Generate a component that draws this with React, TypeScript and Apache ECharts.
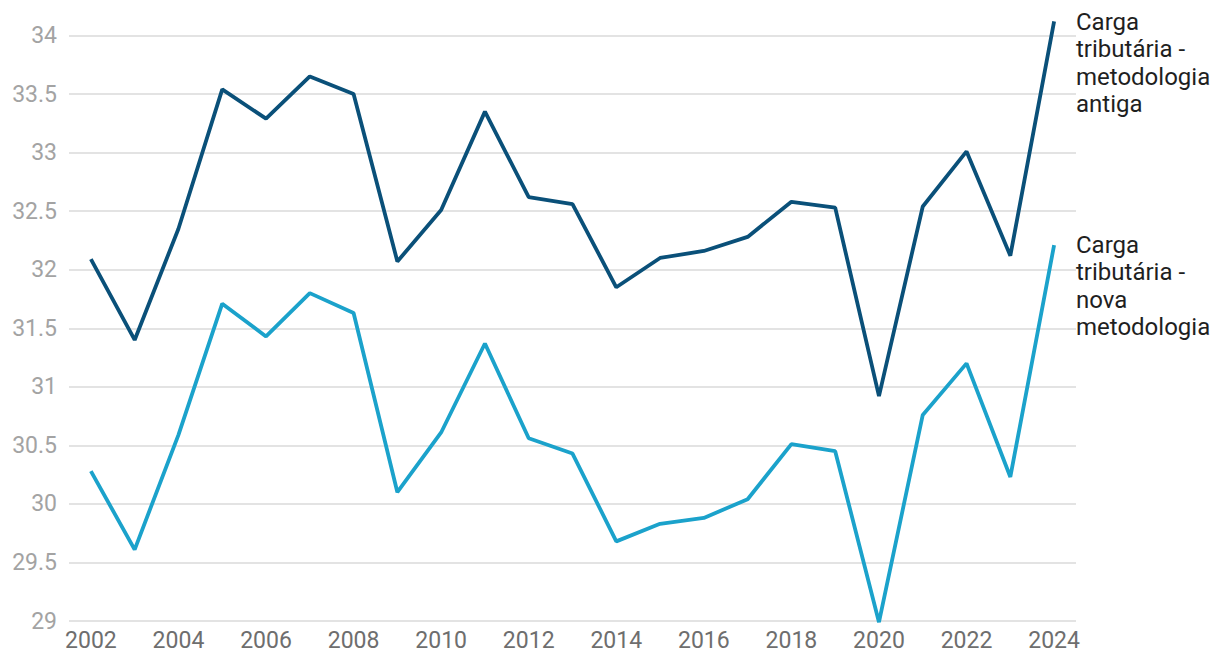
import React, { useEffect, useRef } from "react";
import * as echarts from "echarts";

const years = ["2002","2003","2004","2005","2006","2007","2008","2009","2010","2011","2012","2013","2014","2015","2016","2017","2018","2019","2020","2021","2022","2023","2024"];
const antiga = [32.09,31.4,32.35,33.54,33.29,33.65,33.5,32.07,32.51,33.35,32.62,32.56,31.85,32.1,32.16,32.28,32.58,32.53,30.92,32.54,33.01,32.12,34.12];
const nova = [30.28,29.61,30.59,31.71,31.43,31.8,31.63,30.1,30.61,31.37,30.56,30.43,29.68,29.83,29.88,30.04,30.51,30.45,28.99,30.76,31.2,30.23,32.21];
const labelAntiga = "Carga\ntributária -\nmetodologia\nantiga";
const labelNova = "Carga\ntributária -\nnova\nmetodologia";

export default function App() {
  const ref = useRef<HTMLDivElement>(null);
  useEffect(() => {
    const chart = echarts.init(ref.current!, undefined, { renderer: "svg" });
    chart.setOption({
      animation: false,
      textStyle: { fontFamily: "Roboto" },
      grid: { left: 69, right: 144, top: 35.5, bottom: 51, containLabel: false },
      xAxis: {
        type: "category",
        data: years,
        boundaryGap: true,
        axisLine: { show: false },
        axisTick: { show: false },
        axisLabel: { interval: 1, color: "#6e6e6e", fontSize: 23, fontFamily: "Roboto", margin: 8 },
        splitLine: { show: false },
      },
      yAxis: {
        type: "value",
        min: 29,
        max: 34,
        interval: 0.5,
        axisLine: { show: false },
        axisTick: { show: false },
        axisLabel: { color: "#a3a3a3", fontSize: 23, fontFamily: "Roboto", margin: 12 },
        splitLine: { lineStyle: { color: "#e3e3e3", width: 2 } },
      },
      series: [
        {
          type: "line",
          name: "antiga",
          data: antiga,
          symbol: "none",
          clip: false,
          lineStyle: { color: "#0a5079", width: 3.8 },
        },
        {
          type: "line",
          name: "nova",
          data: nova,
          symbol: "none",
          clip: false,
          lineStyle: { color: "#1ba2cb", width: 3.8 },
        },
      ],
      graphic: [
        {
          type: "text",
          left: 1076,
          top: 8,
          style: { text: labelAntiga, fill: "#1f1f1f", font: "24px Roboto", lineHeight: 27.5 },
        },
        {
          type: "text",
          left: 1076,
          top: 231,
          style: { text: labelNova, fill: "#1f1f1f", font: "24px Roboto", lineHeight: 27.5 },
        },
      ],
    });
    return () => chart.dispose();
  }, []);
  return (
    <div
      ref={ref}
      style={{ position: "fixed", left: 0, top: 0, width: 1220, height: 672, background: "#fff" }}
    />
  );
}
